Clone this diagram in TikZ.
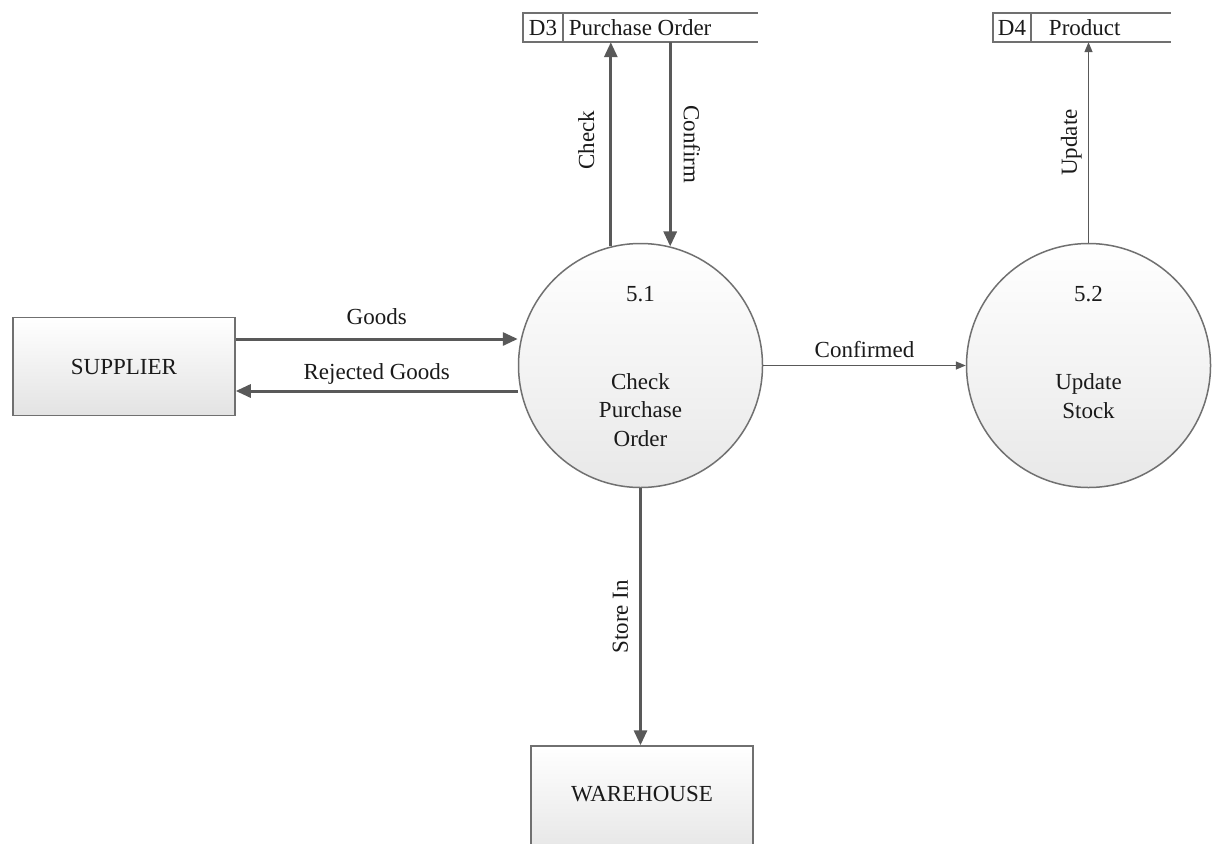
\documentclass[tikz,border=0pt]{standalone}
\usepackage{fontspec}
\setmainfont{Liberation Serif}
\usetikzlibrary{arrows.meta,calc}
\definecolor{lineclr}{HTML}{595959}
\definecolor{edgeclr}{HTML}{707070}
\definecolor{txtclr}{HTML}{1A1A1A}
\tikzset{
  every node/.style={font=\fontsize{23}{28.5}\selectfont, text=txtclr},
  entity/.style={rectangle, draw=edgeclr, line width=1.5pt, top color=white, bottom color=black!11,
                 minimum width=222pt, minimum height=98pt},
  process/.style={circle, draw=edgeclr, line width=1.5pt, top color=white, bottom color=black!9,
                  minimum size=244pt, inner sep=0pt},
  storeid/.style={rectangle, draw=edgeclr, line width=1.5pt, minimum height=29pt, inner sep=0pt},
  storebox/.style={rectangle, minimum height=29pt, inner sep=0pt, anchor=west},
  storetext/.style={inner sep=0pt, anchor=west},
  storeline/.style={draw=edgeclr, line width=1.5pt},
  bigflow/.style={draw=lineclr, line width=3pt, -{Triangle[length=15pt,width=13pt]}},
  smallflow/.style={draw=lineclr, line width=1.4pt, -{Triangle[length=10pt,width=8pt]}},
  flowlabel/.style={inner sep=1pt},
}
\begin{document}
\begin{tikzpicture}[x=1pt,y=-1pt]
\useasboundingbox (0,0) rectangle (1214,843);
\clip (0,0) rectangle (1214,843);
\fill[white] (0,0) rectangle (1214,843);

% external entities
\node[entity] (supplier) at (124,366.5) {SUPPLIER};
\node[entity, minimum height=120pt] (warehouse) at (642,806) {};
\node (warehousetxt) at (642,794) {WAREHOUSE};

% processes
\node[process] (p51) at (640.5,365.5) {};
\node (p51num) at (640.5,294) {5.1};
\node[align=center] (p51txt) at (640.5,410) {Check\\Purchase\\Order};

\node[process] (p52) at (1088.5,365.5) {};
\node (p52num) at (1088.5,294) {5.2};
\node[align=center] (p52txt) at (1088.5,396) {Update\\Stock};

% data store D3
\node[storeid, minimum width=40pt] (d3id) at (543,27.5) {D3};
\node[storebox, minimum width=194pt] (d3) at (d3id.east) {};
\node[storetext] (d3txt) at ([xshift=5pt]d3.west) {Purchase Order};
\draw[storeline] (d3.north west) -- (d3.north east);
\draw[storeline] (d3.south west) -- (d3.south east);

% data store D4
\node[storeid, minimum width=38pt] (d4id) at (1012,27.5) {D4};
\node[storebox, minimum width=139pt] (d4) at (d4id.east) {};
\node[storetext] (d4txt) at ([xshift=17pt]d4.west) {Product};
\draw[storeline] (d4.north west) -- (d4.north east);
\draw[storeline] (d4.south west) -- (d4.south east);

% flows between supplier and 5.1
\draw[bigflow] (supplier.east |- 0,339) -- (p51.west |- 0,339)
  node[flowlabel, midway, above=12pt] (goods) {Goods};
\draw[bigflow] (p51.west |- 0,391) -- (supplier.east |- 0,391)
  node[flowlabel, midway, above=4pt] (rejected) {Rejected Goods};

% flows between 5.1 and D3
\draw[bigflow] (p51.104) -- (p51.104 |- d3.south)
  node[flowlabel, pos=0.52, rotate=90, above=14pt] (check) {Check};
\draw[bigflow] (p51.76 |- d3.south) -- (p51.76)
  node[flowlabel, pos=0.5, rotate=-90, above=11pt] (confirm) {Confirm};

% 5.1 to 5.2
\draw[smallflow] (p51.east) -- (p52.west)
  node[flowlabel, midway, above=6pt] (confirmed) {Confirmed};

% 5.2 to D4
\draw[smallflow] (p52.north) -- (p52.north |- d4.south)
  node[flowlabel, pos=0.5, rotate=90, above=5pt] (update) {Update};

% 5.1 to warehouse
\draw[bigflow] (p51.south) -- (p51.south |- warehouse.north)
  node[flowlabel, midway, rotate=90, above=10pt] (storein) {Store In};
\end{tikzpicture}
\end{document}
